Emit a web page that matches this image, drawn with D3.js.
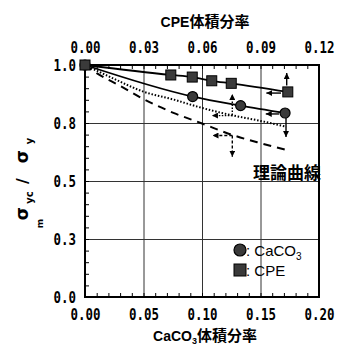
<!DOCTYPE html>
<html><head><meta charset="utf-8">
<script src="https://cdn.jsdelivr.net/npm/d3@7"></script>
<style>body{margin:0;background:#fff}</style>
</head><body>
<svg id="c" width="337" height="347"></svg>
<script>
// ---- data ----
const xBottomTicks = [0, 0.05, 0.10, 0.15, 0.20];
const xBottomLabels = ["0.00", "0.05", "0.10", "0.15", "0.20"];
const xTopTicks = [0, 0.03, 0.06, 0.09, 0.12];
const xTopLabels = ["0.00", "0.03", "0.06", "0.09", "0.12"];
const yTicks = [0, 0.25, 0.5, 0.75, 1.0];
const yLabels = ["0.0", "0.3", "0.5", "0.8", "1.0"];

// CaCO3 (bottom axis)
const caco3X = [0, 0.092, 0.133, 0.171];
const caco3Y = [1.0, 0.864, 0.825, 0.793];
// CPE (top axis)
const cpeX = [0, 0.044, 0.055, 0.065, 0.075, 0.104];
const cpeY = [1.0, 0.957, 0.948, 0.932, 0.921, 0.884];
// theoretical curves (bottom axis)
const dottedX = [0, 0.025, 0.05, 0.075, 0.10, 0.125, 0.15, 0.172];
const dottedY = [1.0, 0.94, 0.885, 0.852, 0.815, 0.784, 0.759, 0.734];
const dashedX = [0, 0.01, 0.03, 0.05, 0.075, 0.10, 0.125, 0.15, 0.172];
const dashedY = [1.0, 0.965, 0.91, 0.853, 0.795, 0.748, 0.70, 0.663, 0.634];
// arrows (bottom-axis units): x1,y1,x2,y2,style
const arrowX1 = [0.1724, 0.1675, 0.1658, 0.1718, 0.1259, 0.1259, 0.1259, 0.1259];
const arrowY1 = [0.912, 0.879, 0.789, 0.772, 0.784, 0.782, 0.696, 0.696];
const arrowX2 = [0.1724, 0.1550, 0.1545, 0.1718, 0.1259, 0.1085, 0.1090, 0.1259];
const arrowY2 = [0.965, 0.879, 0.789, 0.690, 0.875, 0.782, 0.696, 0.605];
const arrowStyle = ["solid", "solid", "solid", "solid", "dot", "dot", "dash", "dash"];

const legendLabels = ["CaCO", "CPE"];
const legendSubs = ["3", ""];
const legendShapes = ["circle", "square"];

// ---- layout ----
const L = 85, R = 319, T = 65, B = 297;
const svg = d3.select("#c");
const xB = d3.scaleLinear().domain([0, 0.2]).range([L, R]);
const xT = d3.scaleLinear().domain([0, 0.12]).range([L, R]);
const y = d3.scaleLinear().domain([0, 1]).range([B, T]);

const defs = svg.append("defs");
defs.append("marker").attr("id", "ah").attr("viewBox", "0 0 6 6")
  .attr("refX", 6).attr("refY", 3).attr("markerWidth", 6).attr("markerHeight", 6)
  .attr("markerUnits", "userSpaceOnUse").attr("orient", "auto")
  .append("path").attr("d", "M0,0L6,3L0,6Z").attr("fill", "#000");

// gridlines
svg.append("g").attr("transform", `translate(0,${B})`)
  .call(d3.axisBottom(xB).tickValues([0.05, 0.10, 0.15]).tickSize(-(B - T)).tickFormat(""))
  .call(g => g.select(".domain").remove())
  .selectAll("line").attr("stroke", "#333").attr("stroke-width", 1);
svg.append("g").attr("transform", `translate(${L},0)`)
  .call(d3.axisLeft(y).tickValues([0.25, 0.5, 0.75]).tickSize(-(R - L)).tickFormat(""))
  .call(g => g.select(".domain").remove())
  .selectAll("line").attr("stroke", "#333").attr("stroke-width", 1);

// minor ticks
svg.append("g").attr("transform", `translate(0,${B})`)
  .call(d3.axisBottom(xB).tickValues(d3.range(0.01, 0.2, 0.01)).tickSize(-4).tickFormat(""))
  .call(g => g.select(".domain").remove());
svg.append("g").attr("transform", `translate(0,${T})`)
  .call(d3.axisTop(xT).tickValues(d3.range(0.006, 0.12, 0.006)).tickSize(-4).tickFormat(""))
  .call(g => g.select(".domain").remove());
svg.append("g").attr("transform", `translate(${L},0)`)
  .call(d3.axisLeft(y).tickValues(d3.range(0.05, 1, 0.05)).tickSize(-4).tickFormat(""))
  .call(g => g.select(".domain").remove());

// frame
svg.append("rect").attr("x", L).attr("y", T).attr("width", R - L).attr("height", B - T)
  .attr("fill", "none").attr("stroke", "#000").attr("stroke-width", 2);

// tick labels (condensed monospace)
const tickFont = (dx, dy) => g => g.selectAll("text")
  .attr("font-family", "DejaVu Sans Mono").attr("font-weight", "bold")
  .attr("font-size", 16).attr("fill", "#000")
  .attr("x", 0).attr("y", 0).attr("dy", null)
  .attr("transform", `translate(${dx},${dy}) scale(0.78,1)`);

svg.append("g").attr("transform", `translate(0,${B})`)
  .call(d3.axisBottom(xB).tickValues(xBottomTicks).tickSize(0).tickFormat((d, i) => xBottomLabels[i]))
  .call(g => g.select(".domain").remove())
  .call(tickFont(0, 23));
svg.append("g").attr("transform", `translate(0,${T})`)
  .call(d3.axisTop(xT).tickValues(xTopTicks).tickSize(0).tickFormat((d, i) => xTopLabels[i]))
  .call(g => g.select(".domain").remove())
  .call(tickFont(0, -12));
svg.append("g").attr("transform", `translate(${L},0)`)
  .call(d3.axisLeft(y).tickValues(yTicks).tickSize(0).tickFormat((d, i) => yLabels[i]))
  .call(g => g.select(".domain").remove())
  .call(tickFont(-9, 5.8));

// curves
const mk = (xs, ys) => xs.map((d, i) => [d, ys[i]]);
const lineB = d3.line().x(d => xB(d[0])).y(d => y(d[1])).curve(d3.curveMonotoneX);
const lineT = d3.line().x(d => xT(d[0])).y(d => y(d[1])).curve(d3.curveMonotoneX);

svg.append("path").attr("d", lineB(mk(dashedX, dashedY))).attr("fill", "none")
  .attr("stroke", "#000").attr("stroke-width", 2).attr("stroke-dasharray", "8,6");
svg.append("path").attr("d", lineB(mk(dottedX, dottedY))).attr("fill", "none")
  .attr("stroke", "#000").attr("stroke-width", 2).attr("stroke-dasharray", "1.5,1.8");
svg.append("path").attr("d", lineB(mk(caco3X, caco3Y))).attr("fill", "none")
  .attr("stroke", "#000").attr("stroke-width", 1.8);
svg.append("path").attr("d", lineT(mk(cpeX, cpeY))).attr("fill", "none")
  .attr("stroke", "#000").attr("stroke-width", 1.8);

// arrows
const dashFor = s => s === "dot" ? "1.5,1.5" : s === "dash" ? "3,2" : null;
svg.append("g").selectAll("line").data(arrowX1).join("line")
  .attr("x1", (d, i) => xB(arrowX1[i])).attr("y1", (d, i) => y(arrowY1[i]))
  .attr("x2", (d, i) => xB(arrowX2[i])).attr("y2", (d, i) => y(arrowY2[i]))
  .attr("stroke", "#000").attr("stroke-width", 1.4)
  .attr("stroke-dasharray", (d, i) => dashFor(arrowStyle[i]))
  .attr("marker-end", "url(#ah)");

// markers
svg.append("g").selectAll("circle").data(mk(caco3X, caco3Y)).join("circle")
  .attr("cx", d => xB(d[0])).attr("cy", d => y(d[1])).attr("r", 5)
  .attr("fill", "#3a3a3a").attr("stroke", "#000").attr("stroke-width", 1.2);
const sq = 10;
svg.append("g").selectAll("rect").data(mk(cpeX, cpeY)).join("rect")
  .attr("x", d => xT(d[0]) - sq / 2).attr("y", d => y(d[1]) - sq / 2)
  .attr("width", sq).attr("height", sq)
  .attr("fill", "#3a3a3a").attr("stroke", "#000").attr("stroke-width", 1);

// theory label
svg.append("text").attr("x", 321).attr("y", 179).attr("text-anchor", "end")
  .attr("font-family", "Noto Sans CJK JP").attr("font-weight", "bold").attr("font-size", 17)
  .text("理論曲線");

// legend
const lg = svg.append("g");
legendLabels.forEach((lab, i) => {
  const cy = 250 + i * 20;
  if (legendShapes[i] === "circle") {
    lg.append("circle").attr("cx", 240).attr("cy", cy).attr("r", 6)
      .attr("fill", "#3a3a3a").attr("stroke", "#000").attr("stroke-width", 1.2);
  } else {
    lg.append("rect").attr("x", 234).attr("y", cy - 6).attr("width", 12).attr("height", 12)
      .attr("fill", "#3a3a3a").attr("stroke", "#000").attr("stroke-width", 1);
  }
  const t = lg.append("text").attr("x", 246).attr("y", cy + 6)
    .attr("font-family", "Liberation Sans").attr("font-size", 15).text(": " + lab);
  if (legendSubs[i]) t.append("tspan").attr("font-size", 10).attr("dy", 4).text(legendSubs[i]);
});

// axis titles
const topTitle = svg.append("text").attr("x", 205).attr("y", 27).attr("text-anchor", "middle")
  .attr("font-weight", "bold");
topTitle.append("tspan").attr("font-family", "Liberation Sans").attr("font-size", 14).text("CPE");
topTitle.append("tspan").attr("font-family", "Noto Sans CJK JP").attr("font-size", 15).text("体積分率");

const botTitle = svg.append("text").attr("x", 205).attr("y", 341).attr("text-anchor", "middle")
  .attr("font-weight", "bold");
botTitle.append("tspan").attr("font-family", "Liberation Sans").attr("font-size", 14).text("CaCO");
botTitle.append("tspan").attr("font-family", "Liberation Sans").attr("font-size", 9).attr("dy", 3).text("3");
botTitle.append("tspan").attr("font-family", "Noto Sans CJK JP").attr("font-size", 15).attr("dy", -3).text("体積分率");

// y axis title pieces
const yTitleParts = [
  {t: "σ", x: 28, y: 213.5, s: 17},
  {t: "yc", x: 33, y: 197.5, s: 10},
  {t: "/", x: 28, y: 181, s: 16},
  {t: "σ", x: 28, y: 156.5, s: 17},
  {t: "y", x: 33, y: 141, s: 10},
  {t: "m", x: 43, y: 223.5, s: 9}
];
svg.append("g").selectAll("text").data(yTitleParts).join("text")
  .attr("transform", d => `translate(${d.x},${d.y}) rotate(-90)`)
  .attr("text-anchor", "middle").attr("font-family", "DejaVu Sans").attr("font-weight", "bold")
  .attr("font-size", d => d.s).text(d => d.t);
</script>
</body></html>
